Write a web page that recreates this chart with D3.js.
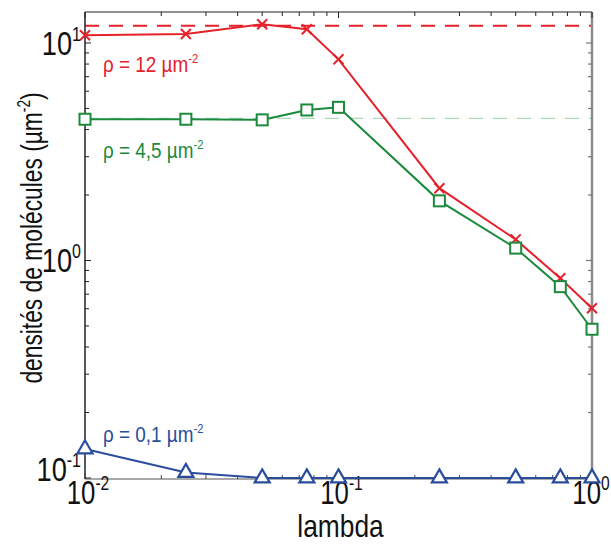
<!DOCTYPE html>
<html><head><meta charset="utf-8">
<script src="https://cdn.jsdelivr.net/npm/d3@7/dist/d3.min.js"></script>
<style>body{margin:0;background:#fff}svg{display:block}</style>
</head><body>
<svg id="c" width="611" height="547"></svg>
<script>
const lambdas = [0.01, 0.025, 0.05, 0.075, 0.1, 0.25, 0.5, 0.75, 1];
const rho12 = [10.85, 11.0, 12.2, 11.56, 8.41, 2.15, 1.25, 0.828, 0.603];
const rho45 = [4.46, 4.46, 4.43, 4.92, 5.06, 1.88, 1.14, 0.758, 0.483];
const rho01 = [0.136, 0.106, 0.1, 0.1, 0.1, 0.1, 0.1, 0.1, 0.1];
const refLevels = [12, 4.5, 0.1];
const seriesNames = ["ρ = 12 µm", "ρ = 4,5 µm", "ρ = 0,1 µm"];
const unitExp = "-2";
const xTickLabels = ["-2", "-1", "0"];
const yTickLabels = ["-1", "0", "1"];
const xLabel = "lambda";
const yLabel = "densités de molécules (µm";

const FONT = "'Liberation Sans',Arial,sans-serif";
const svg = d3.select("#c");
const L = 85, R = 592, T = 12, B = 478;
const x = d3.scaleLog().domain([0.01, 1]).range([L, R]);
const y = d3.scaleLog().domain([0.1, 13.88]).range([B, T]);

const cRed = "#e5212b", cGreen = "#1b8a3c", cBlue = "#2a4d9c";

function ctext(px, py, anchor, size, sx, color, rot) {
  const gg = svg.append("g").attr("transform", `translate(${px},${py})${rot ? " rotate(" + rot + ")" : ""} scale(${sx},1)`);
  return gg.append("text").attr("x", 0).attr("y", 0).attr("text-anchor", anchor)
    .attr("font-family", FONT).attr("font-size", size).attr("fill", color);
}

const xMajor = [0.01, 0.1, 1];
const xMinor = [];
[0.01, 0.1].forEach(d => { for (let k = 2; k <= 9; k++) xMinor.push(d * k); });
const yMajor = [0.1, 1, 10];
const yMinor = [];
[0.1, 1, 10].forEach(d => { for (let k = 2; k <= 9; k++) if (d * k <= 13.88) yMinor.push(d * k); });

svg.append("line").attr("x1", L).attr("x2", R).attr("y1", y(refLevels[0])).attr("y2", y(refLevels[0]))
  .attr("stroke", cRed).attr("stroke-width", 2).attr("stroke-dasharray", "14,10");
svg.append("line").attr("x1", L).attr("x2", R).attr("y1", y(refLevels[1])).attr("y2", y(refLevels[1]))
  .attr("stroke", "#a9dbb9").attr("stroke-width", 1.2).attr("stroke-dasharray", "14,10");

const ax = svg.append("g");
ax.append("line").attr("x1", L).attr("x2", R).attr("y1", T).attr("y2", T).attr("stroke", "#222").attr("stroke-width", 1.2);
ax.append("line").attr("x1", L).attr("x2", L).attr("y1", T).attr("y2", B + 1).attr("stroke", "#222").attr("stroke-width", 1.5);
ax.append("line").attr("x1", L).attr("x2", R).attr("y1", B + 1).attr("y2", B + 1).attr("stroke", "#555").attr("stroke-width", 1.2);
ax.append("line").attr("x1", R).attr("x2", R).attr("y1", T).attr("y2", B + 1).attr("stroke", "#8c8c8c").attr("stroke-width", 2.5);

function xt(v, len) {
  ax.append("line").attr("x1", x(v)).attr("x2", x(v)).attr("y1", T).attr("y2", T + len).attr("stroke", "#222").attr("stroke-width", 1);
  ax.append("line").attr("x1", x(v)).attr("x2", x(v)).attr("y1", B + 1).attr("y2", B + 1 - len).attr("stroke", "#444").attr("stroke-width", 1);
}
xMinor.forEach(v => xt(v, 4));
xMajor.forEach(v => xt(v, 6));
function yt(v, len) {
  ax.append("line").attr("x1", L).attr("x2", L + len).attr("y1", y(v)).attr("y2", y(v)).attr("stroke", "#222").attr("stroke-width", 1);
  ax.append("line").attr("x1", R).attr("x2", R - len).attr("y1", y(v)).attr("y2", y(v)).attr("stroke", "#777").attr("stroke-width", 1.2);
}
yMinor.forEach(v => yt(v, 4));
yMajor.forEach(v => yt(v, 6));

function powLabel(sel, exp) {
  sel.append("tspan").text("10");
  sel.append("tspan").attr("font-size", 20).attr("dy", -14).text(exp);
}
xMajor.forEach((v, i) => {
  const t = ctext(x(v) + (i === 2 ? -1 : 3), 504, "middle", 33, 0.78, "#111");
  powLabel(t, xTickLabels[i]);
});
yMajor.forEach((v, i) => {
  const cy = Math.min(y(v), 469);
  const t = ctext(81, cy + 12, "end", 34, 0.8, "#111");
  powLabel(t, yTickLabels[i]);
});

ctext((L + R) / 2 + 2, 537, "middle", 31, 0.85, "#111").text(xLabel);
const yl = ctext(42, 238, "middle", 30, 0.76, "#111", -90);
yl.append("tspan").text(yLabel);
yl.append("tspan").attr("font-size", 18).attr("dy", -12).text(unitExp);
yl.append("tspan").attr("dy", 12).text(")");

const line = d3.line().x(d => x(d[0])).y(d => y(d[1]));
const series = [
  {vals: rho12, color: cRed, marker: "x"},
  {vals: rho45, color: cGreen, marker: "s"},
  {vals: rho01, color: cBlue, marker: "t"}
];
series.forEach(s => {
  const pts = lambdas.map((l, i) => [l, s.vals[i]]);
  svg.append("path").attr("d", line(pts)).attr("fill", "none").attr("stroke", s.color).attr("stroke-width", 2);
  const mg = svg.append("g");
  pts.forEach(p => {
    const cx = x(p[0]), cy = y(p[1]);
    if (s.marker === "x") {
      const r = 5;
      mg.append("path").attr("d", `M${cx - r},${cy - r}L${cx + r},${cy + r}M${cx - r},${cy + r}L${cx + r},${cy - r}`)
        .attr("stroke", s.color).attr("stroke-width", 2).attr("fill", "none");
    } else if (s.marker === "s") {
      const r = 5.5;
      mg.append("rect").attr("x", cx - r).attr("y", cy - r).attr("width", 2 * r).attr("height", 2 * r)
        .attr("fill", "#fff").attr("stroke", s.color).attr("stroke-width", 2);
    } else {
      const h = 13, w = 15;
      mg.append("path").attr("d", `M${cx},${cy - h * 2 / 3}L${cx + w / 2},${cy + h / 3}L${cx - w / 2},${cy + h / 3}Z`)
        .attr("fill", "#fff").attr("stroke", s.color).attr("stroke-width", 2.2);
    }
  });
});

const ann = [
  {i: 0, color: cRed, yy: 72},
  {i: 1, color: cGreen, yy: 158},
  {i: 2, color: cBlue, yy: 442}
];
ann.forEach(a => {
  const t = ctext(103, a.yy, "start", 22, 0.86, a.color);
  t.append("tspan").text(seriesNames[a.i]);
  t.append("tspan").attr("font-size", 13).attr("dy", -9).text(unitExp);
});
</script>
</body></html>
